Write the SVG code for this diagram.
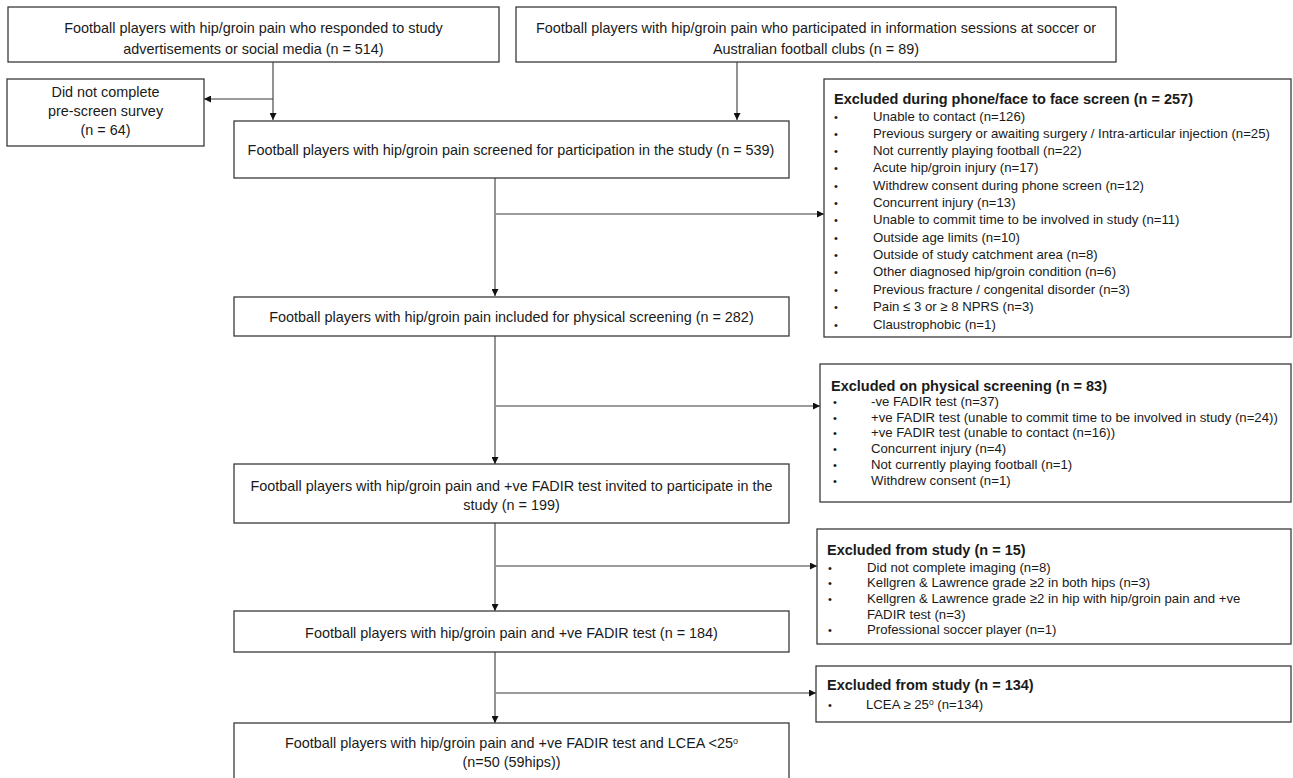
<svg xmlns="http://www.w3.org/2000/svg" width="1293" height="778" viewBox="0 0 1293 778">
<defs>
<marker id="arr" viewBox="0 0 10 10" refX="10" refY="5" markerWidth="7" markerHeight="7" markerUnits="userSpaceOnUse" orient="auto">
<path d="M0,0 L10,5 L0,10 z" fill="#111"/>
</marker>
<style>
.box{fill:#fff;stroke:#3a3a3a;stroke-width:1.3}
.t{font-family:"Liberation Sans",Arial,sans-serif;font-size:14.4px;fill:#1a1a1a;text-anchor:middle}
.h{font-family:"Liberation Sans",Arial,sans-serif;font-size:14.5px;font-weight:bold;fill:#1a1a1a}
.i{font-family:"Liberation Sans",Arial,sans-serif;font-size:13.2px;fill:#1a1a1a}
.b{font-family:"Liberation Sans",Arial,sans-serif;font-size:11px;fill:#1a1a1a}
.c{fill:none;stroke:#3a3a3a;stroke-width:1.1}
</style>
</defs>
<rect width="1293" height="778" fill="#fff"/>
<g id="connectors">
<path class="c" d="M273,62 V120" marker-end="url(#arr)"/>
<path class="c" d="M273,99 H204" marker-end="url(#arr)"/>
<path class="c" d="M737,62 V120" marker-end="url(#arr)"/>
<path class="c" d="M495,178 V296" marker-end="url(#arr)"/>
<path class="c" d="M496,214 H824" marker-end="url(#arr)"/>
<path class="c" d="M495,336 V464" marker-end="url(#arr)"/>
<path class="c" d="M496,406 H820" marker-end="url(#arr)"/>
<path class="c" d="M495,523 V611" marker-end="url(#arr)"/>
<path class="c" d="M496,566 H817" marker-end="url(#arr)"/>
<path class="c" d="M495,652 V723" marker-end="url(#arr)"/>
<path class="c" d="M496,693 H816" marker-end="url(#arr)"/>
</g>
<g id="n514">
<rect class="box" x="8" y="7" width="491" height="55"/>
<text class="t" x="253.5" y="33">Football players with hip/groin pain who responded to study</text>
<text class="t" x="253.5" y="54">advertisements or social media (n = 514)</text>
</g>
<g id="n89">
<rect class="box" x="516" y="7" width="600" height="55"/>
<text class="t" x="816" y="33">Football players with hip/groin pain who participated in information sessions at soccer or</text>
<text class="t" x="816" y="54">Australian football clubs (n = 89)</text>
</g>
<g id="n64">
<rect class="box" x="7" y="79" width="197" height="67"/>
<text class="t" x="105.5" y="97">Did not complete</text>
<text class="t" x="105.5" y="116">pre-screen survey</text>
<text class="t" x="105.5" y="135">(n = 64)</text>
</g>
<g id="n539">
<rect class="box" x="234" y="121" width="555" height="57"/>
<text class="t" x="511" y="155">Football players with hip/groin pain screened for participation in the study (n = 539)</text>
</g>
<g id="ex257">
<rect class="box" x="824" y="79" width="467" height="258"/>
<text class="h" x="834" y="104">Excluded during phone/face to face screen (n = 257)</text>
<g class="b">
<text x="834" y="121">•</text><text x="834" y="138">•</text><text x="834" y="155">•</text><text x="834" y="172">•</text><text x="834" y="190">•</text><text x="834" y="207">•</text><text x="834" y="224">•</text><text x="834" y="242">•</text><text x="834" y="259">•</text><text x="834" y="276">•</text><text x="834" y="294">•</text><text x="834" y="311">•</text><text x="834" y="329">•</text>
</g>
<text class="i" x="873" y="121">Unable to contact (n=126)</text>
<text class="i" x="873" y="138">Previous surgery or awaiting surgery / Intra-articular injection (n=25)</text>
<text class="i" x="873" y="155">Not currently playing football (n=22)</text>
<text class="i" x="873" y="172">Acute hip/groin injury (n=17)</text>
<text class="i" x="873" y="190">Withdrew consent during phone screen (n=12)</text>
<text class="i" x="873" y="207">Concurrent injury (n=13)</text>
<text class="i" x="873" y="224">Unable to commit time to be involved in study (n=11)</text>
<text class="i" x="873" y="242">Outside age limits (n=10)</text>
<text class="i" x="873" y="259">Outside of study catchment area (n=8)</text>
<text class="i" x="873" y="276">Other diagnosed hip/groin condition (n=6)</text>
<text class="i" x="873" y="294">Previous fracture / congenital disorder (n=3)</text>
<text class="i" x="873" y="311">Pain ≤ 3 or ≥ 8 NPRS (n=3)</text>
<text class="i" x="873" y="329">Claustrophobic (n=1)</text>
</g>
<g id="n282">
<rect class="box" x="234" y="297" width="555" height="39"/>
<text class="t" x="511.5" y="322">Football players with hip/groin pain included for physical screening (n = 282)</text>
</g>
<g id="ex83">
<rect class="box" x="820" y="364" width="471" height="138"/>
<text class="h" x="831" y="391">Excluded on physical screening (n = 83)</text>
<g class="b">
<text x="833" y="406">•</text><text x="833" y="422">•</text><text x="833" y="437">•</text><text x="833" y="453">•</text><text x="833" y="469">•</text><text x="833" y="485">•</text>
</g>
<text class="i" x="871" y="406">-ve FADIR test (n=37)</text>
<text class="i" x="871" y="422">+ve FADIR test (unable to commit time to be involved in study (n=24))</text>
<text class="i" x="871" y="437">+ve FADIR test (unable to contact (n=16))</text>
<text class="i" x="871" y="453">Concurrent injury (n=4)</text>
<text class="i" x="871" y="469">Not currently playing football (n=1)</text>
<text class="i" x="871" y="485">Withdrew consent (n=1)</text>
</g>
<g id="n199">
<rect class="box" x="234" y="464" width="555" height="59"/>
<text class="t" x="511.5" y="491">Football players with hip/groin pain and +ve FADIR test invited to participate in the</text>
<text class="t" x="511.5" y="510">study (n = 199)</text>
</g>
<g id="ex15">
<rect class="box" x="817" y="529" width="474" height="115"/>
<text class="h" x="827" y="555">Excluded from study (n = 15)</text>
<g class="b">
<text x="828" y="572">•</text><text x="828" y="587">•</text><text x="828" y="603">•</text><text x="828" y="634">•</text>
</g>
<text class="i" x="867" y="572">Did not complete imaging (n=8)</text>
<text class="i" x="867" y="587">Kellgren &amp; Lawrence grade ≥2 in both hips (n=3)</text>
<text class="i" x="867" y="603">Kellgren &amp; Lawrence grade ≥2 in hip with hip/groin pain and +ve</text>
<text class="i" x="867" y="619">FADIR test (n=3)</text>
<text class="i" x="867" y="634">Professional soccer player (n=1)</text>
</g>
<g id="n184">
<rect class="box" x="234" y="611" width="555" height="41"/>
<text class="t" x="511.5" y="638">Football players with hip/groin pain and +ve FADIR test  (n = 184)</text>
</g>
<g id="ex134">
<rect class="box" x="816" y="666" width="475" height="56"/>
<text class="h" x="827" y="690">Excluded from study (n = 134)</text>
<text class="b" x="828" y="709">•</text>
<text class="i" x="866" y="709">LCEA ≥ 25<tspan font-size="8.5" dy="-4">o</tspan><tspan dy="4"> (n=134)</tspan></text>
</g>
<g id="n50">
<rect class="box" x="234" y="723" width="555" height="60"/>
<text class="t" x="511.5" y="748">Football players with hip/groin pain and +ve FADIR test and LCEA &lt;25<tspan font-size="9" dy="-4">o</tspan></text>
<text class="t" x="511.5" y="767">(n=50 (59hips))</text>
</g>
</svg>
